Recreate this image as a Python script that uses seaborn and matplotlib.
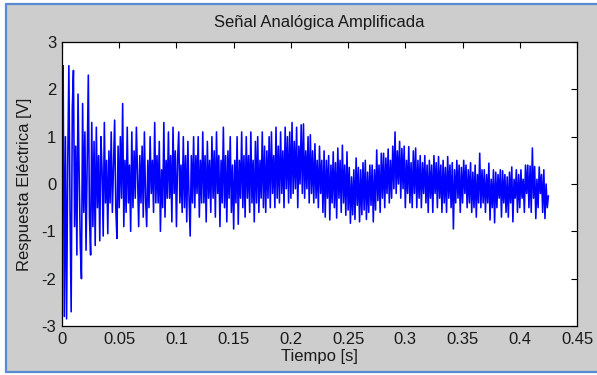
import numpy as np
import pandas as pd
import matplotlib
matplotlib.use("Agg")
import matplotlib.pyplot as plt
from matplotlib.patches import Rectangle
import seaborn as sns

# ---- data (1 sample per ms) ----
fs = 1000.0
seg_0_00 = [0.6, 2.5, -2.8, 1.0, -2.85, 0.4, 2.5, -0.5, -2.7, 1.6,
            2.4, -0.9, 0.8, -1.5, 1.9, 0.2, -1.3, -2.0, 1.7, -0.6,
            1.1, -1.4, 0.5, 2.3, -0.7, -1.5, 1.3, -0.9, 0.9, -1.3,
            1.2, -0.5, 0.6, -1.2, 1.0, 0.3, -1.1, 1.3, -0.4, 0.5,
            -1.05, 0.7, -0.4, 1.1, -0.6, 0.4, 1.35, -0.5, -1.15, 0.8]
seg_0_05 = [-0.5, 1.0, -0.3, 1.7, -0.9, 0.5, -0.6, 1.2, -0.4, 0.4,
            -1.0, 1.1, -0.5, 0.7, -0.3, 1.2, 0.2, -0.9, 0.6, -0.4,
            0.8, -0.7, 1.1, -0.3, -0.9, 0.5, -0.5, 1.0, -0.2, 0.5,
            -0.6, 1.3, -0.4, 0.6, -0.4, 0.9, -1.0, 0.3, -0.5, 1.3,
            -0.7, 0.5, -0.3, 1.1, -0.3, 0.6, -0.8, 1.2, -0.2, 0.7]
seg_0_10 = [-0.9, 0.5, 1.1, -0.4, 0.4, -0.6, 1.0, -0.5, 0.6, -0.8,
            0.9, -0.3, -1.1, 0.6, -0.4, 1.0, -0.5, 0.6, -0.2, 1.0,
            -0.7, 0.5, -0.4, 1.1, -0.4, 0.6, -0.8, 0.9, -0.3, 0.5,
            -0.6, 1.0, -0.3, 0.7, -0.7, 1.1, -0.2, 0.6, -0.9, 0.5,
            -0.4, 1.2, -0.5, 0.6, -0.8, 0.7, -0.3, 1.0, -0.6, 0.4]
seg_0_15 = [-0.95, 0.5, -0.4, 1.0, -0.85, 0.5, -0.3, 1.1, -0.5, 0.6,
            -0.7, 1.0, -0.3, 0.6, -0.6, 1.1, -0.4, 0.5, -0.8, 0.9,
            -0.4, 1.0, -0.6, 0.5, -0.3, 1.1, -0.5, 0.8, -0.6, 0.7,
            -0.3, 1.0, -0.5, 1.1, -0.2, 0.6, -0.5, 1.2, -0.3, 0.8,
            -0.4, 1.1, -0.2, 0.7, -0.5, 1.2, -0.1, 1.0, -0.4, 1.1]
seg_0_20 = [-0.3, 1.3, -0.2, 0.9, -0.1, 1.2, -0.5, 0.8, 0.0, 1.25,
            -0.2, 1.27, -0.3, 0.7, -0.1, 1.0, -0.4, 1.04, -0.2, 0.7,
            -0.4, 0.85, -0.3, 0.5, -0.5, 0.8, -0.2, 0.5, -0.6, 0.7,
            -0.7, 0.5, -0.3, 0.6, -0.76, 0.4, -0.4, 0.68, -0.5, 0.45,
            -0.72, 0.76, -0.3, 0.5, -0.6, 0.82, -0.4, 0.4, -0.66, 0.68]
seg_0_25 = [-0.55, 0.35, -0.83, 0.15, -0.65, 0.3, -0.75, 0.55, -0.45, 0.35,
            -0.8, 0.3, -0.65, 0.45, -0.55, 0.5, -0.75, 0.25, -0.6, 0.4,
            -0.45, 0.4, -0.8, 0.3, -0.55, 0.72, -0.35, 0.4, -0.6, 0.65,
            -0.3, 0.65, -0.5, 0.55, -0.2, 0.74, -0.4, 0.5, -0.3, 0.8,
            -0.1, 1.1, -0.2, 0.7, 0.0, 0.9, -0.3, 0.75, -0.1, 0.8]
seg_0_30 = [-0.5, 0.5, -0.2, 0.79, -0.4, 0.45, -0.5, 0.7, -0.2, 0.76,
            -0.5, 0.5, -0.3, 0.6, -0.5, 0.45, -0.2, 0.6, -0.4, 0.4,
            -0.6, 0.5, -0.3, 0.4, -0.6, 0.6, -0.2, 0.45, -0.5, 0.58,
            -0.3, 0.4, -0.6, 0.5, -0.4, 0.35, -0.6, 0.58, -0.3, 0.4,
            -0.5, 0.45, -0.95, 0.3, -0.4, 0.5, -0.3, 0.4, -0.6, 0.35]
seg_0_35 = [-0.4, 0.5, -0.2, 0.4, -0.5, 0.3, -0.4, 0.45, -0.6, 0.25,
            -0.5, 0.4, -0.7, 0.2, -0.4, 0.65, -0.5, 0.3, -0.4, 0.3,
            -0.6, 0.2, -0.4, 0.44, -0.76, 0.1, -0.5, 0.3, -0.82, 0.25,
            -0.5, 0.2, -0.3, 0.3, -0.7, 0.28, -0.4, 0.2, -0.6, 0.15,
            -0.7, 0.25, -0.4, 0.36, -0.8, 0.1, -0.3, 0.3, -0.6, 0.2]
seg_0_40 = [-0.5, 0.3, -0.3, 0.1, -0.6, 0.4, -0.2, 0.4, -0.5, 0.38,
            -0.6, 0.76, -0.3, 0.37, -0.73, 0.1, -0.5, 0.36, -0.2, 0.2,
            -0.6, 0.3, -0.73, 0.0, -0.5, -0.25]

x_ticks = [0, 0.05, 0.1, 0.15, 0.2, 0.25, 0.3, 0.35, 0.4, 0.45]
x_tick_labels = ["0", "0.05", "0.1", "0.15", "0.2", "0.25", "0.3", "0.35", "0.4", "0.45"]
y_ticks = [-3, -2, -1, 0, 1, 2, 3]
y_tick_labels = ["-3", "-2", "-1", "0", "1", "2", "3"]

title = "Señal Analógica Amplificada"
xlabel = "Tiempo [s]"
ylabel = "Respuesta Eléctrica [V]"

signal = np.array(seg_0_00 + seg_0_05 + seg_0_10 + seg_0_15 + seg_0_20 +
                  seg_0_25 + seg_0_30 + seg_0_35 + seg_0_40)
time = np.arange(len(signal)) / fs
df = pd.DataFrame({"t": time, "v": signal})

# ---- style ----
sns.set_style("white")
plt.rcParams["font.family"] = ["Liberation Sans", "DejaVu Sans"]
plt.rcParams["axes.unicode_minus"] = False

W, H = 597, 375
fig = plt.figure(figsize=(W / 100, H / 100), dpi=100)
fig.patch.set_facecolor("white")

# window frame (grey panel with blue border)
frame = Rectangle((6 / W, 1 - 372 / H), (W + 10) / W, (372 - 4) / H,
                  transform=fig.transFigure, facecolor="#cdcdcd",
                  edgecolor="#5a8ad0", linewidth=1.6, zorder=-10)
fig.patches.append(frame)

ax = fig.add_axes([62 / W, 1 - 326 / H, (577 - 62) / W, (326 - 42) / H])
ax.set_facecolor("white")

sns.lineplot(data=df, x="t", y="v", ax=ax, color="#0000ff", linewidth=1.15,
             estimator=None, sort=False, legend=False)

ax.set_xlim(0, 0.45)
ax.set_ylim(-3, 3)
ax.set_xticks(x_ticks)
ax.set_xticklabels(x_tick_labels)
ax.set_yticks(y_ticks)
ax.set_yticklabels(y_tick_labels)
ax.tick_params(direction="in", length=4, width=0.8, colors="black",
               labelsize=12, top=True, right=True, pad=4)
for lab in ax.get_xticklabels() + ax.get_yticklabels():
    lab.set_color("#1a1a1a")
for sp in ax.spines.values():
    sp.set_visible(True)
    sp.set_color("black")
    sp.set_linewidth(0.9)

ax.set_title(title, fontsize=12, color="#1a1a1a", pad=11)
ax.set_xlabel(xlabel, fontsize=12, color="#1a1a1a", labelpad=2)
ax.set_ylabel(ylabel, fontsize=12, color="#1a1a1a", labelpad=7)

fig.savefig("out.png", dpi=100, facecolor=fig.get_facecolor())
